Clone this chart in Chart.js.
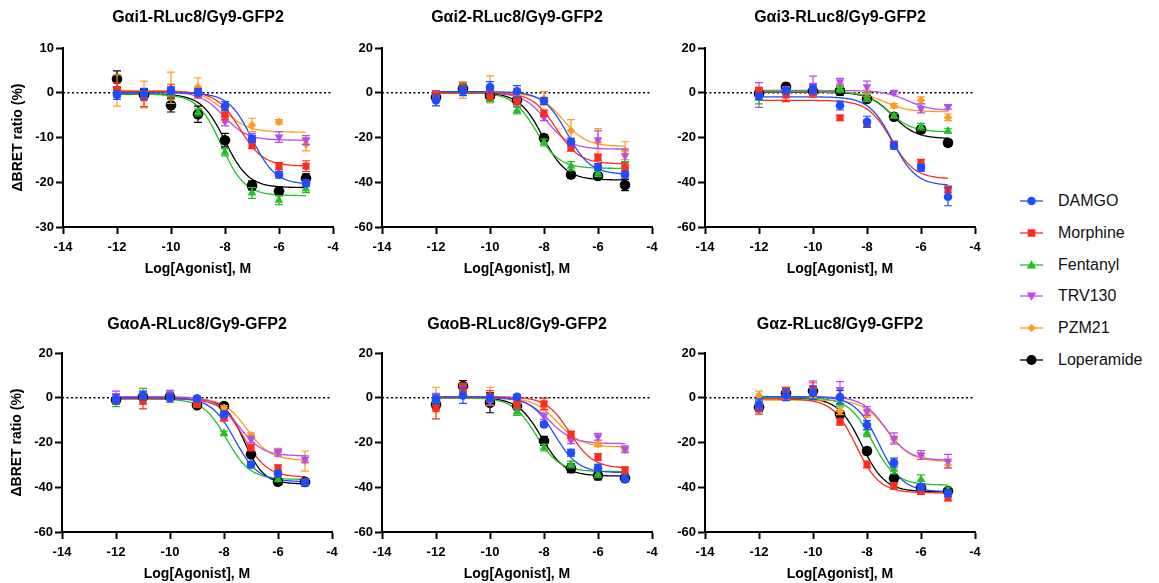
<!DOCTYPE html>
<html>
<head>
<meta charset="utf-8">
<script src="https://cdn.jsdelivr.net/npm/chart.js@4.4.1/dist/chart.umd.min.js"></script>
<style>
  html, body { margin: 0; padding: 0; background: #fff; width: 1159px; height: 583px; overflow: hidden; }
  canvas { position: absolute; }
  #legend { position: absolute; left: 1018px; top: 0; font: 16px "Liberation Sans", Arial, sans-serif; color: #111; }
  .item { position: absolute; left: 0; height: 20px; display: flex; align-items: center; white-space: nowrap; }
  .item svg { margin-right: 12px; }
</style>
</head>
<body>
<div id="legend"></div>
<script>
// dosi (log M) e agonisti
const doses = [-12, -11, -10, -9, -8, -7, -6, -5];
const drugs = ["DAMGO", "Morphine", "Fentanyl", "TRV130", "PZM21", "Loperamide"];

// Gαi1 — medie, SEM e parametri del fit (ordine come drugs)
const gai1Mean = [
  [-0.5, -0.2, 0.5, 0.1, -3.0, -10.3, -18.3, -20.2],
  [0.7, -1.1, 0.4, 0.0, -5.0, -11.7, -16.4, -16.4],
  [0.0, -0.7, -0.4, -4.4, -13.3, -22.4, -24.0, -21.5],
  [0.2, -0.7, 0.0, -0.2, -6.4, -10.1, -9.9, -10.6],
  [0.5, -0.4, 1.1, 1.3, -5.2, -7.2, -6.5, -11.5],
  [3.1, -0.5, -2.8, -4.8, -10.6, -20.7, -22.0, -19.1]
];
const gai1Sem = [
  [1.0, 1.2, 0.8, 0.8, 1.0, 0.8, 0.7, 0.8],
  [1.5, 2.0, 1.5, 1.0, 1.0, 0.8, 0.8, 1.2],
  [1.0, 1.0, 1.0, 0.8, 0.8, 1.2, 1.0, 0.8],
  [1.0, 1.0, 1.0, 1.0, 1.0, 1.0, 1.2, 1.0],
  [3.5, 3.0, 3.5, 2.0, 1.5, 1.5, 0.5, 1.5],
  [1.8, 1.2, 1.5, 1.8, 1.5, 1.0, 1.0, 1.0]
];
const gai1Top = [0, 0.3, -0.3, 0.2, 0.5, -0.3];
const gai1Bottom = [-20.5, -16.4, -23, -10.6, -8.8, -21.2];
const gai1LogEC50 = [-7.0, -7.45, -8.14, -8.05, -8.0, -8.0];
const gai1Hill = [1, 1, 1, 1, 1, 1];

// Gαi2
const gai2Mean = [
  [-3.4, 0.7, 2.5, 0.7, -3.7, -21.9, -33.2, -36.6],
  [-1.5, 1.8, -1.0, -3.7, -9.2, -24.6, -28.9, -33.4],
  [-1.2, 2.5, -2.5, -7.9, -22.2, -32.8, -36.0, -32.3],
  [-0.5, 1.5, 0.0, -4.5, -11.0, -23.0, -21.0, -28.2],
  [-1.0, 1.0, 1.5, -2.0, -2.5, -17.0, -22.0, -25.9],
  [-2.0, 1.9, -1.5, -3.4, -20.3, -36.5, -37.2, -41.2]
];
const gai2Sem = [
  [2.5, 2.0, 2.5, 2.5, 1.5, 1.5, 1.5, 1.5],
  [2.0, 3.0, 2.0, 1.5, 1.5, 1.5, 1.5, 2.0],
  [1.5, 1.5, 1.5, 1.5, 1.5, 2.0, 1.5, 1.5],
  [1.5, 1.5, 1.5, 1.5, 1.5, 1.5, 4.0, 3.0],
  [2.0, 3.5, 6.0, 4.0, 3.0, 5.0, 6.0, 4.0],
  [1.5, 1.5, 1.5, 1.5, 1.5, 1.5, 1.5, 2.5]
];
const gai2Top = [0.5, 0, 0, 0, 0, 0];
const gai2Bottom = [-36.5, -31.8, -33.8, -25.2, -24, -39];
const gai2LogEC50 = [-7.15, -7.55, -8.3, -7.9, -7.3, -8.05];
const gai2Hill = [1, 1, 1, 1, 1, 1];

// Gαi3
const gai3Mean = [
  [-1.5, 1.0, 1.5, -5.7, -13.0, -23.7, -33.5, -46.5],
  [1.2, -1.0, 0.0, -11.2, -13.7, -23.1, -31.3, -43.2],
  [-2.5, 0.7, 0.5, 1.5, -2.5, -10.4, -15.2, -17.1],
  [-1.0, 1.2, 3.4, 4.9, 2.7, 0.1, -7.0, -6.3],
  [0.0, 1.0, 0.5, 2.7, -0.3, -5.8, -3.3, -11.0],
  [-0.3, 2.7, 0.7, 0.9, -2.8, -10.7, -16.4, -22.4]
];
const gai3Sem = [
  [1.5, 1.0, 2.0, 2.0, 2.5, 1.5, 1.5, 4.0],
  [1.0, 3.0, 2.0, 1.0, 1.5, 1.5, 1.5, 1.5],
  [2.5, 1.5, 1.5, 1.5, 1.5, 1.0, 1.5, 1.0],
  [5.5, 1.5, 4.0, 1.5, 2.5, 1.0, 2.0, 1.0],
  [1.5, 1.5, 2.0, 1.5, 1.5, 1.0, 1.5, 1.5],
  [1.5, 1.5, 2.0, 2.0, 1.5, 1.0, 1.5, 1.5]
];
const gai3Top = [-1.8, -3.4, 0.6, 1.0, 0.4, 0.2];
const gai3Bottom = [-41.5, -38.5, -17.5, -8, -8.5, -20.5];
const gai3LogEC50 = [-7.05, -7.1, -7.2, -6.5, -7.35, -7.05];
const gai3Hill = [1, 1, 1, 1, 1, 1];

// GαoA
const gaoAMean = [
  [-0.7, 1.0, 0.0, -0.3, -7.4, -29.8, -33.9, -37.9],
  [-1.0, -1.5, 0.5, -3.0, -8.9, -22.3, -31.5, -37.5],
  [-2.0, 0.7, 0.3, -2.2, -15.9, -30.5, -36.5, -37.6],
  [1.0, 0.5, 1.8, -2.5, -9.4, -18.6, -24.6, -27.5],
  [0.0, 0.0, 0.5, -2.0, -4.5, -16.7, -24.1, -28.3],
  [-1.0, 0.5, 0.5, -3.3, -3.7, -25.3, -37.5, -37.6]
];
const gaoASem = [
  [2.0, 2.0, 2.0, 1.0, 1.5, 1.0, 1.0, 1.5],
  [1.5, 3.5, 1.5, 1.0, 1.5, 1.5, 1.5, 1.0],
  [2.0, 3.5, 1.5, 1.0, 1.0, 1.0, 1.0, 1.0],
  [2.0, 1.5, 1.5, 1.0, 1.0, 1.5, 1.5, 1.5],
  [1.5, 3.0, 1.5, 1.0, 1.0, 1.0, 1.5, 4.5],
  [1.5, 1.5, 1.5, 1.0, 1.0, 1.0, 1.0, 1.0]
];
const gaoATop = [0, -0.5, -0.5, 0.5, 0, -0.3];
const gaoABottom = [-37.5, -35.5, -36.5, -26, -28, -38.5];
const gaoALogEC50 = [-7.6, -7.25, -7.9, -7.45, -7.15, -7.25];
const gaoAHill = [1, 1, 1, 1, 1, 1.2];

// GαoB
const gaoBMean = [
  [-0.7, 1.0, 0.0, 0.4, -11.9, -24.6, -31.3, -36.2],
  [-4.9, 4.5, 0.7, -3.0, -2.7, -16.4, -26.5, -32.4],
  [-0.7, 3.7, 0.0, -6.4, -22.3, -29.8, -34.2, -35.5],
  [0.0, 3.0, -1.5, -4.0, -8.2, -19.0, -17.4, -23.0],
  [0.7, 3.0, 0.7, -2.2, -3.7, -17.9, -20.8, -23.0],
  [-3.0, 5.2, -2.2, -3.7, -19.3, -31.5, -34.7, -36.0]
];
const gaoBSem = [
  [2.0, 3.5, 1.5, 1.0, 1.0, 1.5, 1.5, 1.5],
  [4.5, 2.0, 2.5, 1.5, 2.5, 1.5, 1.5, 1.5],
  [1.5, 2.5, 2.0, 1.5, 1.5, 1.5, 1.5, 1.5],
  [2.0, 2.0, 2.0, 1.5, 1.5, 1.5, 1.5, 1.5],
  [4.0, 2.5, 4.0, 2.5, 2.0, 1.5, 1.0, 1.0],
  [2.0, 2.5, 4.5, 1.5, 2.0, 2.0, 2.0, 1.5]
];
const gaoBTop = [0.3, 0.5, 0, 0, 0, 0];
const gaoBBottom = [-33.5, -31.5, -33, -20.5, -22, -35];
const gaoBLogEC50 = [-7.6, -7.05, -8.3, -7.8, -7.5, -8.1];
const gaoBHill = [1, 1, 1, 1, 1, 1];

// Gαz
const gazMean = [
  [-3.0, 1.2, 2.2, 0.3, -12.2, -29.0, -39.9, -42.7],
  [-4.8, 2.7, 3.7, -10.7, -29.8, -39.4, -41.7, -44.6],
  [-3.5, 2.7, 3.0, -2.2, -15.9, -32.0, -36.5, -41.5],
  [-3.0, 1.5, 4.5, 3.7, -6.0, -18.2, -25.6, -28.3],
  [1.0, 1.5, 2.2, -6.0, -7.4, -18.6, -26.0, -30.0],
  [-4.2, 2.0, 3.0, -7.4, -23.8, -36.0, -40.2, -41.7]
];
const gazSem = [
  [2.5, 2.5, 3.0, 3.0, 2.0, 2.0, 1.5, 1.5],
  [2.5, 2.0, 3.0, 1.5, 1.5, 1.5, 1.5, 1.5],
  [2.0, 2.0, 2.0, 1.5, 1.5, 2.0, 2.0, 1.5],
  [2.0, 2.5, 3.0, 3.5, 2.0, 2.5, 2.0, 3.0],
  [2.0, 1.5, 2.0, 1.5, 1.5, 1.5, 1.5, 1.5],
  [2.0, 2.0, 2.0, 1.5, 1.5, 1.5, 1.5, 1.5]
];
const gazTop = [0.5, -0.5, 0, 0.5, -1.0, 0];
const gazBottom = [-42, -42.5, -39, -28, -28.5, -42];
const gazLogEC50 = [-7.55, -8.4, -7.8, -7.3, -7.25, -8.2];
const gazHill = [1, 1, 1, 1, 1, 1];

// stile delle serie
const colori = ["#1f4cff", "#ff2b1c", "#22c025", "#b64cf0", "#ff9b1f", "#000000"];
const forme = ["circle", "rect", "triangle", "triangle", "rectRot", "circle"];
const rotazioni = [0, 0, 0, 180, 0, 0];
const raggi = [4.3, 5, 5, 5, 4.2, 5.3];

const FONT = "'Liberation Sans', Arial, Helvetica, sans-serif";
Chart.defaults.font.family = FONT;
Chart.defaults.color = "#000";

// curva sigmoide del fit a 4 parametri
function curvaFit(top, bottom, logEC50, hill) {
  const punti = [];
  for (let i = 0; i <= 140; i++) {
    const x = -12 + i * 0.05;
    const y = bottom + (top - bottom) / (1 + Math.pow(10, (x - logEC50) * hill));
    punti.push({ x: x, y: y });
  }
  return punti;
}

// barre di errore (SEM) disegnate sotto i marker di ogni serie
const erroriPlugin = {
  id: "errori",
  beforeDatasetDraw(chart, args) {
    const ds = chart.data.datasets[args.index];
    if (!ds.sem) return;
    const ctx = chart.ctx;
    const xs = chart.scales.x;
    const ys = chart.scales.y;
    ctx.save();
    ctx.strokeStyle = ds.borderColor;
    ctx.lineWidth = 1.2;
    ds.data.forEach((p, i) => {
      const e = ds.sem[i];
      const px = xs.getPixelForValue(p.x);
      const y1 = ys.getPixelForValue(p.y + e);
      const y2 = ys.getPixelForValue(p.y - e);
      ctx.beginPath();
      ctx.moveTo(px, y1);
      ctx.lineTo(px, y2);
      ctx.moveTo(px - 4, y1);
      ctx.lineTo(px + 4, y1);
      ctx.moveTo(px - 4, y2);
      ctx.lineTo(px + 4, y2);
      ctx.stroke();
    });
    ctx.restore();
  }
};

const pannelli = [
  { titolo: "Gαi1-RLuc8/Gγ9-GFP2", left: 63, top: 48, yMin: -30, yMax: 10, yStep: 10, yTitolo: true,
    medie: gai1Mean, sem: gai1Sem, fTop: gai1Top, fBottom: gai1Bottom, fEC50: gai1LogEC50, fHill: gai1Hill },
  { titolo: "Gαi2-RLuc8/Gγ9-GFP2", left: 382, top: 48, yMin: -60, yMax: 20, yStep: 20, yTitolo: false,
    medie: gai2Mean, sem: gai2Sem, fTop: gai2Top, fBottom: gai2Bottom, fEC50: gai2LogEC50, fHill: gai2Hill },
  { titolo: "Gαi3-RLuc8/Gγ9-GFP2", left: 705, top: 48, yMin: -60, yMax: 20, yStep: 20, yTitolo: false,
    medie: gai3Mean, sem: gai3Sem, fTop: gai3Top, fBottom: gai3Bottom, fEC50: gai3LogEC50, fHill: gai3Hill },
  { titolo: "GαoA-RLuc8/Gγ9-GFP2", left: 62, top: 353, yMin: -60, yMax: 20, yStep: 20, yTitolo: true,
    medie: gaoAMean, sem: gaoASem, fTop: gaoATop, fBottom: gaoABottom, fEC50: gaoALogEC50, fHill: gaoAHill },
  { titolo: "GαoB-RLuc8/Gγ9-GFP2", left: 382, top: 353, yMin: -60, yMax: 20, yStep: 20, yTitolo: false,
    medie: gaoBMean, sem: gaoBSem, fTop: gaoBTop, fBottom: gaoBBottom, fEC50: gaoBLogEC50, fHill: gaoBHill },
  { titolo: "Gαz-RLuc8/Gγ9-GFP2", left: 705, top: 353, yMin: -60, yMax: 20, yStep: 20, yTitolo: false,
    medie: gazMean, sem: gazSem, fTop: gazTop, fBottom: gazBottom, fEC50: gazLogEC50, fHill: gazHill }
];

const Y_W = 60, AREA_W = 270, AREA_H = 179, TITLE_H = 48, X_H = 53, PAD_R = 14;

function creaPannello(p) {
  const canvas = document.createElement("canvas");
  canvas.width = Y_W + AREA_W + PAD_R;
  canvas.height = TITLE_H + AREA_H + X_H;
  canvas.style.left = (p.left - Y_W) + "px";
  canvas.style.top = (p.top - TITLE_H) + "px";
  document.body.appendChild(canvas);

  const datasets = [];

  // punti medi ± SEM
  drugs.forEach((nome, k) => {
    datasets.push({
      type: "scatter",
      label: nome,
      data: doses.map((d, i) => ({ x: d, y: p.medie[k][i] })),
      sem: p.sem[k],
      pointStyle: forme[k],
      rotation: rotazioni[k],
      pointRadius: raggi[k],
      pointBackgroundColor: colori[k],
      pointBorderColor: colori[k],
      pointBorderWidth: 0,
      borderColor: colori[k],
      backgroundColor: colori[k],
      order: 1
    });
  });

  // curve del fit
  drugs.forEach((nome, k) => {
    datasets.push({
      type: "line",
      label: nome + " fit",
      data: curvaFit(p.fTop[k], p.fBottom[k], p.fEC50[k], p.fHill[k]),
      borderColor: colori[k],
      borderWidth: 1.3,
      pointRadius: 0,
      tension: 0,
      order: 10
    });
  });

  // linea tratteggiata dello zero
  datasets.push({
    type: "line",
    label: "zero",
    data: [{ x: -14, y: 0 }, { x: -4, y: 0 }],
    borderColor: "#000",
    borderWidth: 1.5,
    borderDash: [2, 2.5],
    pointRadius: 0,
    order: 20
  });

  new Chart(canvas.getContext("2d"), {
    type: "scatter",
    data: { datasets: datasets },
    plugins: [erroriPlugin],
    options: {
      responsive: false,
      animation: false,
      devicePixelRatio: 1,
      layout: { padding: { left: 0, top: 0, right: PAD_R, bottom: 0 } },
      plugins: {
        legend: { display: false },
        tooltip: { enabled: false },
        title: {
          display: true,
          text: p.titolo,
          fullSize: false,
          color: "#000",
          font: { size: 16, weight: "bold" },
          padding: p.top > 100 ? { top: 10.4, bottom: 18.4 } : { top: 8.4, bottom: 20.4 }
        }
      },
      scales: {
        x: {
          type: "linear",
          min: -14,
          max: -4,
          ticks: { stepSize: 2, font: { size: 13, weight: "bold" }, color: "#000", padding: 6, maxRotation: 0 },
          grid: { drawOnChartArea: false, drawTicks: true, tickLength: 7, tickWidth: 2, tickColor: "#000" },
          border: { display: true, color: "#000", width: 2 },
          title: { display: true, text: "Log[Agonist], M", font: { size: 14, weight: "bold" }, color: "#000", padding: { top: 0, bottom: 2.6 } },
          afterFit(scale) {
            scale.height = X_H;
            scale.paddingLeft = 0;
            scale.paddingRight = 0;
          }
        },
        y: {
          type: "linear",
          min: p.yMin,
          max: p.yMax,
          ticks: { stepSize: p.yStep, font: { size: 13, weight: "bold" }, color: "#000", padding: 2 },
          grid: { drawOnChartArea: false, drawTicks: true, tickLength: 7, tickWidth: 2, tickColor: "#000" },
          border: { display: true, color: "#000", width: 2 },
          title: { display: p.yTitolo, text: "ΔBRET ratio (%)", font: { size: 14, weight: "bold" }, color: "#000", padding: { top: 6.6, bottom: 0 } },
          afterFit(scale) {
            scale.width = Y_W;
            scale.paddingTop = 0;
            scale.paddingBottom = 0;
          }
        }
      }
    }
  });
}

pannelli.forEach(creaPannello);

// legenda comune a destra
const legendaY = [201, 233, 265, 296, 328, 360];
const legenda = document.getElementById("legend");
drugs.forEach((nome, k) => {
  const c = colori[k];
  let marker;
  if (k === 0) marker = `<circle cx="13.5" cy="10" r="4.3" fill="${c}"/>`;
  else if (k === 1) marker = `<rect x="9.7" y="6.2" width="7.6" height="7.6" fill="${c}"/>`;
  else if (k === 2) marker = `<polygon points="13.5,5.2 18.3,13.5 8.7,13.5" fill="${c}"/>`;
  else if (k === 3) marker = `<polygon points="13.5,14.8 18.3,6.5 8.7,6.5" fill="${c}"/>`;
  else if (k === 4) marker = `<polygon points="13.5,6 17.5,10 13.5,14 9.5,10" fill="${c}"/>`;
  else marker = `<circle cx="13.5" cy="10" r="5" fill="${c}"/>`;
  const div = document.createElement("div");
  div.className = "item";
  div.style.top = (legendaY[k] - 10) + "px";
  div.innerHTML = `<svg width="28" height="20"><line x1="2" y1="10" x2="25" y2="10" stroke="${c}" stroke-width="1.3"/>${marker}</svg><span>${nome}</span>`;
  legenda.appendChild(div);
});
</script>
</body>
</html>
